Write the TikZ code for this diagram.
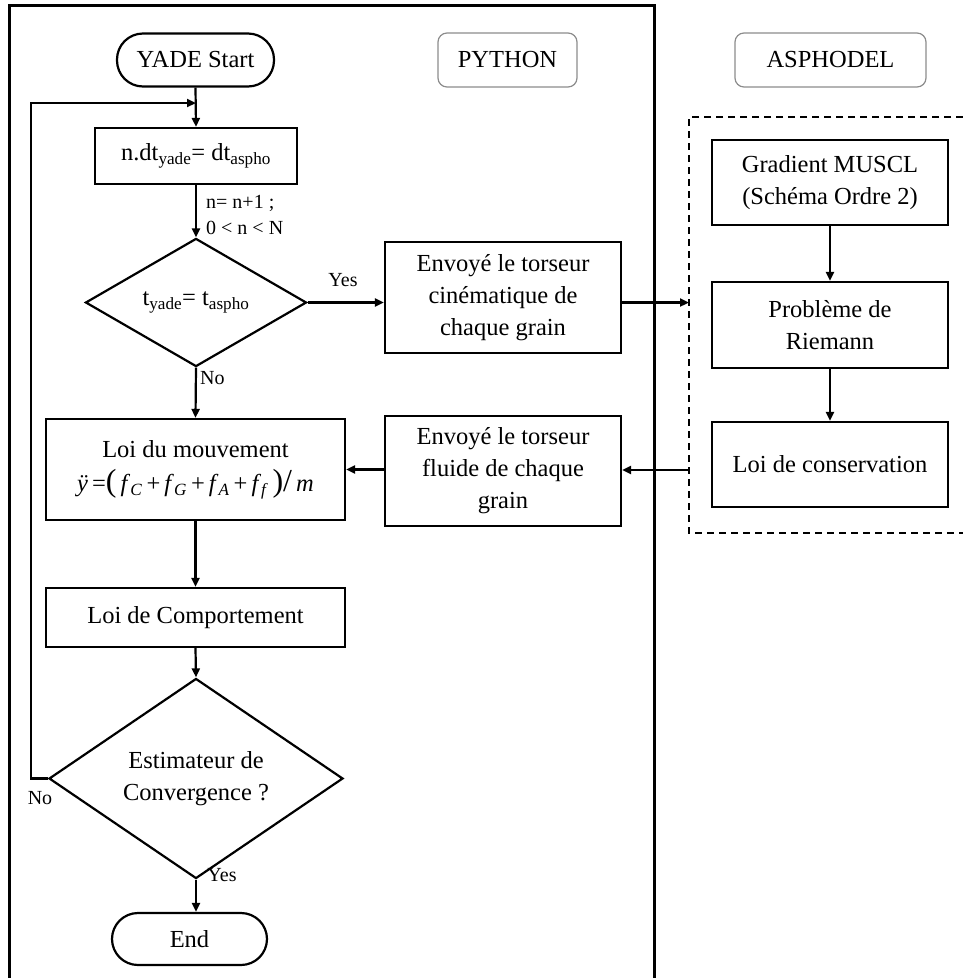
\documentclass[tikz,border=0pt]{standalone}
\usepackage{fontspec}
\setmainfont{Liberation Serif}
\usetikzlibrary{shapes.geometric,arrows.meta}
\newcommand{\bigp}[1]{{\fontsize{32}{32}\selectfont #1}}
\begin{document}
\begin{tikzpicture}[x=1pt,y=-1pt,
  every node/.style={font=\fontsize{24.5}{32}\selectfont, align=center, inner sep=0pt},
  box/.style={draw, line width=2.2pt, minimum width=236pt, minimum height=85pt},
  term/.style={draw, line width=2.2pt, rounded corners=26pt, minimum height=53pt},
  tag/.style={draw=black!45, line width=1.2pt, rounded corners=9pt, minimum height=54pt},
  dec/.style={draw, line width=2.2pt, shape=diamond},
  lbl/.style={font=\fontsize{20}{24}\selectfont},
  arr/.style={line width=2.2pt, -{Triangle[length=9pt,width=8pt]}},
  frame/.style={line width=3pt},
  zone/.style={line width=1.6pt, dash pattern=on 7pt off 5pt}]
\useasboundingbox (0,0) rectangle (963,978);
% frames
\draw[frame] (9,978) -- (9,5) -- (654,5) -- (654,978);
\draw[zone] (963,117) -- (689,117) -- (689,533) -- (963,533);
% tags
\node[tag, minimum width=139pt] (python) at (507.5,60) {PYTHON};
\node[tag, minimum width=191pt] (asph) at (830.5,60) {ASPHODEL};
% left column
\node[term, minimum width=157pt] (start) at (195.5,60) {YADE Start};
\node[box, minimum width=202pt, minimum height=56pt] (ndt) at (196,156)
  {n.dt\textsubscript{yade}= dt\textsubscript{aspho}};
\node[dec, minimum width=221pt, minimum height=99pt] (d1) at (196,302.5)
  {t\textsubscript{yade}= t\textsubscript{aspho}};
\node[box, minimum width=299pt, minimum height=101pt] (mouv) at (195.5,469.5)
  {Loi du mouvement\\[2pt]
   \textit{ÿ}\,=\bigp{(}\,\textit{f}\textsubscript{\textit{C}}\,+\,\textit{f}\textsubscript{\textit{G}}\,+\,\textit{f}\textsubscript{\textit{A}}\,+\,\textit{f}\textsubscript{\textit{f}}\,\bigp{)}\bigp{/}\,\textit{m}};
\node[box, minimum width=299pt, minimum height=59pt] (comp) at (195.5,617.5) {Loi de Comportement};
\node[dec, minimum width=294pt, minimum height=131pt] (d2) at (196,778.5) {Estimateur de\\Convergence ?};
\node[term, minimum width=155pt, minimum height=52pt] (end) at (189.5,939) {End};
% middle column
\node[box, minimum height=111pt] (cine) at (503,297.5) {Envoyé le torseur\\cinématique de\\chaque grain};
\node[box, minimum height=110pt] (fluide) at (503,471) {Envoyé le torseur\\fluide de chaque\\grain};
% right column
\node[box] (grad) at (830,182.5) {Gradient MUSCL\\(Schéma Ordre 2)};
\node[box, minimum height=86pt] (riem) at (830,325) {Problème de\\Riemann};
\node[box] (cons) at (830,464.5) {Loi de conservation};
% coordinates
\coordinate (loopin) at (196,103);
\coordinate (loopx) at (31,103);
\coordinate (dIn) at (689,302.5);
\coordinate (dOut) at (689,470);
% connectors
\draw[arr] (start.south) -- (ndt.north);
\draw[arr] (ndt.south) -- (d1.north);
\draw[arr] (d1.east) -- (cine.west |- d1.east);
\draw[arr] (d1.south) -- (mouv.north);
\draw[arr] (cine.east |- dIn) -- (dIn);
\draw[arr] (dOut) -- (fluide.east |- dOut);
\draw[arr] (fluide.west |- mouv.east) -- (mouv.east);
\draw[arr] (mouv.south) -- (comp.north);
\draw[arr] (comp.south) -- (d2.north);
\draw[arr] (d2.south) -- (d2.south |- end.north);
\draw[arr] (d2.west) -| (loopx) -- (loopin);
\draw[arr] (grad.south) -- (riem.north);
\draw[arr] (riem.south) -- (cons.north);
% labels
\node[lbl, anchor=west] (l1) at (206,203) {n= n+1 ;};
\node[lbl, anchor=west] (l2) at (206,228) {0 < n < N};
\node[lbl] (yes1) at (343,280) {Yes};
\node[lbl, anchor=west] (no1) at (200,378) {No};
\node[lbl] (yes2) at (222,875) {Yes};
\node[lbl] (no2) at (40,798) {No};
\end{tikzpicture}
\end{document}
